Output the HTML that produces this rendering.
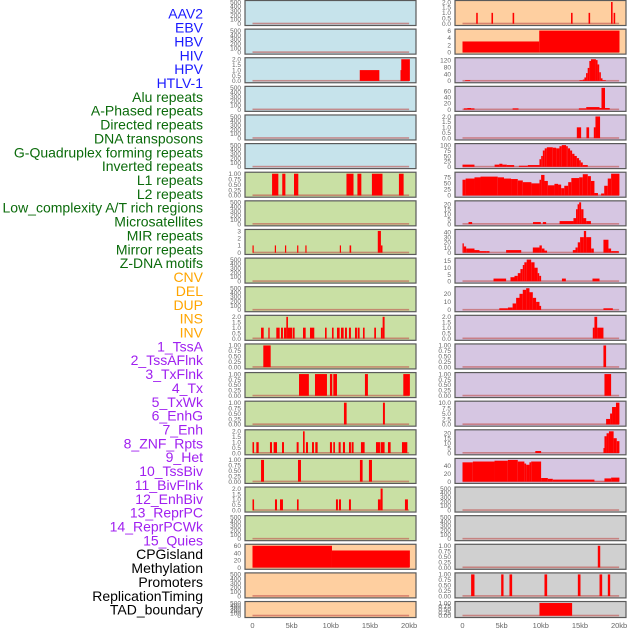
<!DOCTYPE html>
<html><head><meta charset="utf-8"><style>
body{margin:0;background:#fff;width:630px;height:630px;overflow:hidden}
svg{display:block;font-family:"Liberation Sans",sans-serif}
</style></head><body>
<svg id="chart" width="630" height="630" viewBox="0 0 630 630" xmlns="http://www.w3.org/2000/svg"></svg>
<script>
const labelNames=["AAV2","EBV","HBV","HIV","HPV","HTLV-1","Alu repeats","A-Phased repeats","Directed repeats","DNA transposons","G-Quadruplex forming repeats","Inverted repeats","L1 repeats","L2 repeats","Low_complexity A/T rich regions","Microsatellites","MIR repeats","Mirror repeats","Z-DNA motifs","CNV","DEL","DUP","INS","INV","1_TssA","2_TssAFlnk","3_TxFlnk","4_Tx","5_TxWk","6_EnhG","7_Enh","8_ZNF_Rpts","9_Het","10_TssBiv","11_BivFlnk","12_EnhBiv","13_ReprPC","14_ReprPCWk","15_Quies","CPGisland","Methylation","Promoters","ReplicationTiming","TAD_boundary"];
const labelColors=[].concat(Array(6).fill("#1a1aff"),Array(13).fill("#0b6b0b"),Array(5).fill("#ffa500"),Array(15).fill("#a020f0"),Array(5).fill("#000"));
const T500=["0","100","200","300","400","500"],T2=["0.0","0.5","1.0","1.5","2.0"],TB=["0.00","0.25","0.50","0.75","1.00"];
const leftTicks=[T500,T500,T2,T500,T500,T500,TB,T500,["0","1","2","3"],T500,T500,T2,TB,TB,TB,T2,TB,T2,T500,["0","20","40","60"],T500,T500];
const rightTicks=[T2,["0","2","4","6"],["0","40","80","120"],["0","20","40","60"],T2,["0","25","50","75","100"],["0","25","50","75"],["0","5","10","15","20"],["0","10","20","30","40"],["0","5","10","15"],["0","10","20"],T2,TB,TB,["0.0","2.5","5.0","7.5","10.0"],["0","5","10","15","20"],["0","20","40"],T500,T500,TB,TB,TB];
const leftBg=[0,0,0,0,0,0,1,1,1,1,1,1,1,1,1,1,1,1,1,2,2,2];
const rightBg=[2,2,3,3,3,3,3,3,3,3,3,3,3,3,3,3,3,4,4,4,4,4];
const bgColors=["#c6e3eb","#c9e0a4","#fecfa0","#d6c6e2","#d0d0d0"];
// each run: [x0,v0,x1,v1,...,xn] in kb
const leftData=[
[],[],
[[13.7,1,16.2],[18.9,1,19.0,2,20.1]],
[],[],[],
[[2.5,1,3.3],[3.8,1,4.2],[5.3,1,5.85],[12.0,1,12.9],[13.4,1,13.9],[15.25,1,16.6],[18.7,1,19.3]],
[],
[[0,1,0.15],[2.85,1,3.0],[4.15,1,4.3],[5.7,1,5.85],[6.75,1,6.9],[11.15,1,11.3],[12.4,1,12.6],[16.0,3,16.4,1,16.6]],
[],[],
[[1.09,1,1.43],[2.02,1,2.19],[3.04,1,3.47],[3.64,1,3.89],[4.02,1,4.32,2,4.53,1,5.09],[5.17,1,5.38],[6.45,1,6.79],[7.34,1,7.89],[9.26,1,9.47],[10.15,1,10.36],[10.79,1,11.13],[11.3,1,11.64],[11.81,1,12.06],[12.32,1,12.57],[13.09,1,13.34],[13.43,1,13.68],[14.11,1,14.32],[15.55,1,15.77],[16.4,1,16.62,2,16.87]],
[[1.38,1,2.32]],
[[5.94,1,7.2],[7.98,1,9.51],[9.89,1,10.19],[10.32,1,10.79],[14.36,1,14.74],[19.26,1,20.1]],
[[11.68,1,12.02],[16.66,1,16.91]],
[[0,1,0.2],[0.49,1,0.79],[2.23,1,2.49],[2.7,1,3.13],[3.77,1,4.02],[5.64,1,5.89],[6.45,2,6.66],[6.83,1,7.09],[7.6,1,7.85],[8.02,1,8.32],[9.89,1,10.15],[10.32,1,10.53],[11.0,1,11.26],[11.55,1,11.81],[12.32,1,12.57],[12.66,1,12.91],[13.85,1,14.32],[15.77,1,16.28],[16.36,1,16.87],[17.3,1,17.64],[19.09,1,19.77]],
[[1.09,1,1.47],[5.81,1,6.19],[13.72,1,14.06],[14.87,1,15.26]],
[[0,1,0.2],[2.87,1,3.13],[3.51,1,3.89],[5.68,1,5.89],[10.66,1,10.91],[11.04,1,11.3],[12.32,1,12.57],[16.02,1,16.36,2,16.62],[19.47,1,19.85]],
[],
[[0,60,10.15,47,20.1]],
[],[]
];
const rightData=[
[[1.75,1,1.95],[3.7,1,3.9],[6.4,1,6.6],[13.86,1,14.06],[16.1,1,16.3],[18.97,2,19.17],[19.3,1,19.5]],
[[0,3,9.8,6,20.05]],
[[0.34,4,0.98],[14.94,4,15.36,8,15.57,20,15.78,45,15.99,75,16.2,115,16.41,125,17.04,120,17.25,95,17.46,50,17.67,15,17.88,4,18.3]],
[[0.17,4,0.6,5,1.1,4,1.53],[6.4,4,7.15],[14.86,4,15.8,8,17.5,5,17.75,70,18.2,5,18.8]],
[[14.6,1,15.15],[15.83,1,16.17],[16.77,1,16.98,2,17.57]],
[[0,10,1.53],[4.1,10,4.7,14,5.1,10,5.66,8,6.6],[7.2,5,8.34,8,9.83,35,10.05,50,10.26,75,10.5,85,10.77,90,11.53,88,11.96,85,12.38,95,12.68,100,13.23,95,13.45,85,13.74,75,14.0,60,14.3,50,14.6,40,14.89,30,15.1,20,15.36,8,16.0]],
[[0,65,0.4,70,1.53,75,2.3,78,4.5,75,5.3,70,6.2,68,7.06,62,7.7,55,8.8,50,9.83,65,10.04,85,10.47,60,10.9,42,11.74,48,12.2,45,12.6,30,13.0,40,13.5,55,13.9,72,14.9,75,15.36,88,16.0,80,16.4,60,16.85,10,17.3,0,17.7,8,18.1,40,18.55,70,18.98,90,20.04]],
[[0.77,2,1.23],[9.0,2,10.0],[10.26,2,10.68],[12.4,3,14.17,6,14.5,15,14.7,20,14.9,22,15.15,15,15.45,6,15.8,3,16.4]],
[[0,18,0.17,12,0.47,8,1.53,5,2.17,3,3.02],[3.02,3,3.45],[5.57,5,7.5],[8.98,10,9.83,14,10.13,8,10.47,4,10.8],[14.09,5,14.43,10,14.72,20,15.02,30,15.5,42,15.79,30,16.43,8,16.77],[18.0,25,18.64,8,18.98,3,19.96]],
[[3.96,2,5.57],[6.13,3,6.64,4,7.06,6,7.4,9,7.7,12,7.9,14,8.2,16,8.77,14,9.2,10,9.6,6,9.8,4,10.04],[12.7,2,13.2],[16.6,2,17.5]],
[[4.7,2,5.8,3,6.4,8,6.85,15,7.28,20,7.7,25,8.13,27,8.55,22,8.98,15,9.4,10,9.83,5,10.04],[18.0,2,19.2]],
[[16.64,1,16.85,2,17.2,1,18.0]],
[[18.0,1,18.34]],
[[18.13,1,18.98]],
[[18.34,2.5,18.85,5,19.1,8,19.6,10,20.04]],
[[9.3,2,10.04],[18.0,5,18.13,17,18.4,20,18.7,22,19.3,15,19.7,12,20.04]],
[[0,48,1.32,50,4.09,52,5.79,54,7.06,50,7.9,45,8.13,42,8.55,48,8.77,50,10.04,9,10.9,7,11.53,5,16.85,0.5,18.13,8,18.98,10,20.04]],
[],[],
[[17.28,1,17.59]],
[[1.1,1,1.53],[4.94,1,5.24],[6.0,1,6.34],[10.47,1,10.81],[14.73,1,15.07],[17.5,1,17.84],[18.56,1,18.86]],
[[9.83,1,14.0]]
];
const xTickLabels=["0","5kb","10kb","15kb","20kb"];
const xTickVals=[0,5,10,15,20];

const NS="http://www.w3.org/2000/svg";
const svg=document.getElementById("chart");
function mk(tag,attrs,parent){const e=document.createElementNS(NS,tag);for(const k in attrs)e.setAttribute(k,attrs[k]);(parent||svg).appendChild(e);return e;}

// labels
labelNames.forEach((n,i)=>{
  const t=mk("text",{x:203,y:15+13.86*i,"text-anchor":"end","dominant-baseline":"middle","font-size":14,fill:labelColors[i]});
  
  
  t.textContent=n;
});

function panelTop(i){return i*28.62;}
function drawPanel(col,i,ticks,bgIdx,runs){
  const px=col?455:245, pw=171;
  const top=panelTop(i)+0.5, h=(i===21)?16:25;
  const g=mk("g",{});
  
  
  mk("rect",{x:px,y:top,width:pw,height:h,fill:bgColors[bgIdx],stroke:"#5a5a5a","stroke-width":1.2},g);
  const x0=px+7.5, sx=7.83;
  const xs=k=>x0+k*sx;
  const tv=ticks.map(parseFloat);
  let dmax=0;runs.forEach(r=>{for(let j=1;j<r.length;j+=2)dmax=Math.max(dmax,r[j]);});
  const ymax=Math.max(tv[tv.length-1],dmax);
  const yb=top+h-1.8, yt=top+1.5;
  const ys=v=>yb-(v/ymax)*(yb-yt);
  // baseline
  mk("rect",{x:xs(0),y:yb-1,width:xs(20)-xs(0),height:1.6,fill:"#c0504d",opacity:0.6},g);
  runs.forEach(r=>{
    for(let j=0;j+2<r.length;j+=2){
      const a=r[j],v=r[j+1],b=r[j+2];
      if(v<=0)continue;
      const bar=mk("rect",{x:xs(a),y:ys(v),width:Math.max(1.2,xs(b)-xs(a)),height:yb-ys(v),fill:"#ff0000"},g);
      
      
    }
  });
  ticks.forEach((t,k)=>{
    const tx=mk("text",{x:px-4,y:ys(tv[k])+2.3,"text-anchor":"end","font-size":6.5,fill:"#666"},g);
    
    
    tx.textContent=t;
  });
}
leftData.forEach((d,i)=>drawPanel(0,i,leftTicks[i],leftBg[i],d));
rightData.forEach((d,i)=>drawPanel(1,i,rightTicks[i],rightBg[i],d));
[0,1].forEach(col=>{
  const x0=(col?455:245)+7.5;
  xTickVals.forEach((v,k)=>{
    const t=mk("text",{x:x0+v*7.83,y:628,"text-anchor":"middle","font-size":7.5,fill:"#666"});
    
    
    t.textContent=xTickLabels[k];
  });
});
</script>
</body></html>
